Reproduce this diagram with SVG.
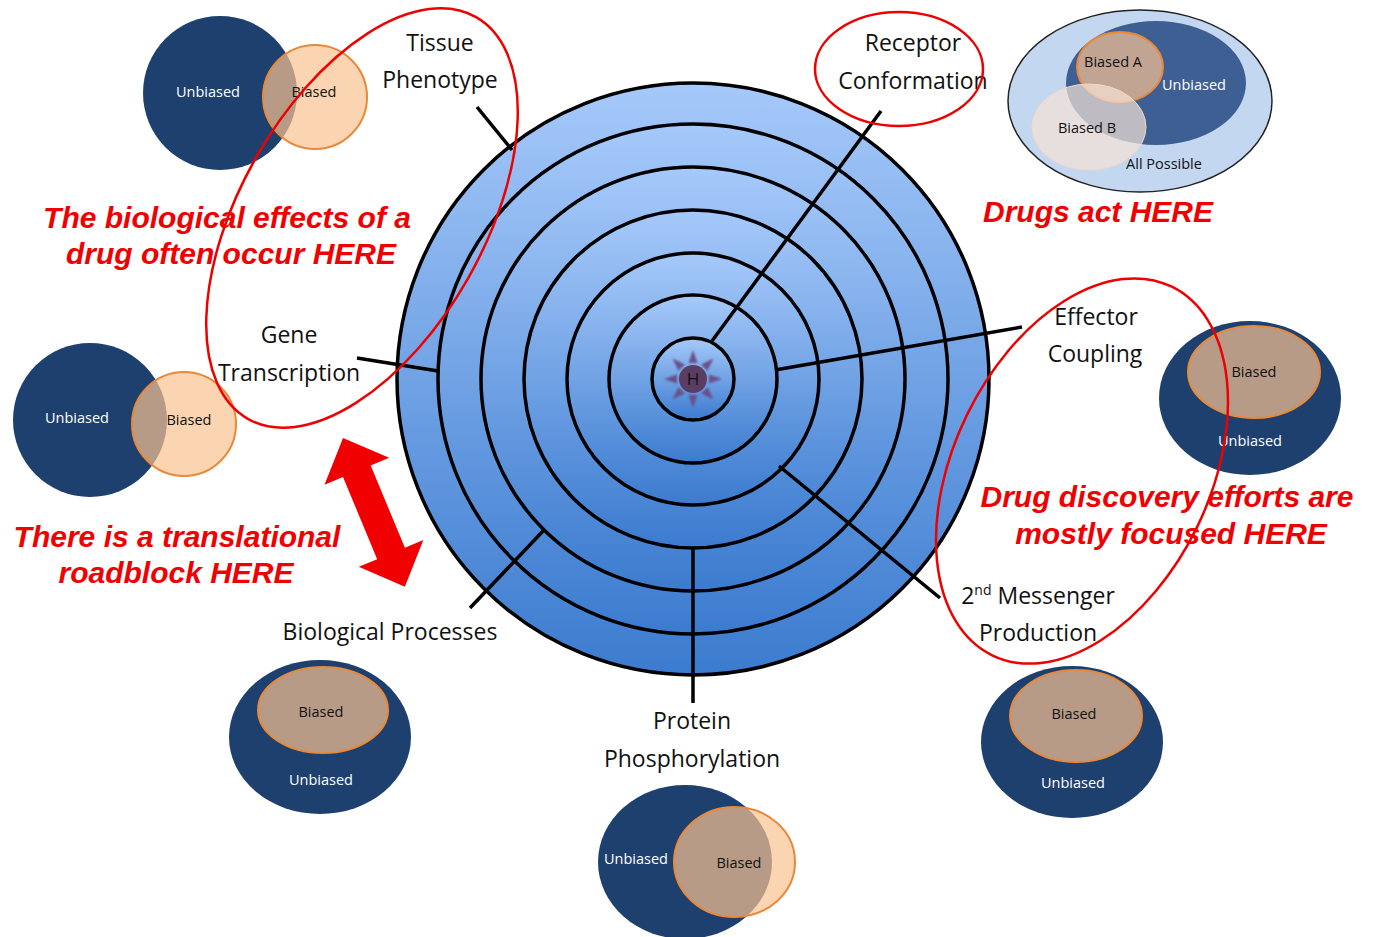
<svg xmlns="http://www.w3.org/2000/svg" width="1373" height="937" viewBox="0 0 1373 937">
<defs>
<linearGradient id="ringGrad" x1="0" y1="0" x2="0" y2="1">
<stop offset="0" stop-color="#a6c9fa"/>
<stop offset="1" stop-color="#3b7bcf"/>
</linearGradient>
<filter id="soft" x="-50%" y="-50%" width="200%" height="200%"><feGaussianBlur stdDeviation="1"/></filter>
<style>
.ring{fill:url(#ringGrad);stroke:#000;stroke-width:3.5}
.spoke{stroke:#000;stroke-width:3.5;fill:none;stroke-linecap:butt}
.lbl{font-family:"Open Sans","DejaVu Sans",sans-serif;font-size:23px;fill:#111;text-anchor:middle}
.vt{font-family:"Open Sans","DejaVu Sans",sans-serif;font-size:14.5px;text-anchor:middle}
.vb{fill:#111}
.vw{fill:#fff}
.navy{fill:#1e406f}
.peach{fill:#fac290;fill-opacity:0.7;stroke:#e8893a;stroke-width:2}
.redline{fill:none;stroke:#ee0000;stroke-width:2.5}
.redtxt{font-family:"Liberation Sans",Arial,sans-serif;font-weight:bold;font-style:italic;font-size:30px;fill:#f00000;text-anchor:middle}
</style>
</defs>
<rect width="1373" height="937" fill="#fff"/>

<!-- Venn diagrams -->
<g id="venn-tissue">
<circle class="navy" cx="220" cy="93" r="77"/>
<circle class="peach" cx="315" cy="97" r="52"/>
<text class="vt vw" x="208" y="97">Unbiased</text>
<text class="vt vb" x="314" y="97">Biased</text>
</g>
<g id="venn-gene">
<circle class="navy" cx="90" cy="420" r="77"/>
<circle class="peach" cx="184" cy="424" r="52"/>
<text class="vt vw" x="77" y="423">Unbiased</text>
<text class="vt vb" x="189" y="425">Biased</text>
</g>
<g id="venn-bio">
<ellipse class="navy" cx="320" cy="737" rx="91" ry="77"/>
<ellipse class="peach" cx="323" cy="710" rx="65" ry="43"/>
<text class="vt vb" x="321" y="717">Biased</text>
<text class="vt vw" x="321" y="785">Unbiased</text>
</g>
<g id="venn-protein">
<ellipse class="navy" cx="685" cy="862" rx="87" ry="77"/>
<ellipse class="peach" cx="734.5" cy="862" rx="60.5" ry="55"/>
<text class="vt vw" x="636" y="864">Unbiased</text>
<text class="vt vb" x="739" y="868">Biased</text>
</g>
<g id="venn-messenger">
<ellipse class="navy" cx="1072" cy="742" rx="91" ry="76"/>
<ellipse class="peach" cx="1076" cy="716" rx="66" ry="46"/>
<text class="vt vb" x="1074" y="719">Biased</text>
<text class="vt vw" x="1073" y="788">Unbiased</text>
</g>
<g id="venn-effector">
<ellipse class="navy" cx="1250" cy="398" rx="91" ry="77"/>
<ellipse class="peach" cx="1254" cy="372" rx="66" ry="46"/>
<text class="vt vb" x="1254" y="377">Biased</text>
<text class="vt vw" x="1250" y="446">Unbiased</text>
</g>
<g id="venn-receptor">
<ellipse cx="1140" cy="101" rx="132" ry="91" fill="#c4d7f0" stroke="#222" stroke-width="1.5"/>
<ellipse cx="1156" cy="83" rx="90" ry="62" fill="#3e5f93"/>
<ellipse class="peach" cx="1120" cy="67" rx="43" ry="35"/>
<ellipse cx="1089" cy="127" rx="57" ry="43" fill="#f6e2d6" fill-opacity="0.7" stroke="#f0d8c8" stroke-width="1"/>
<text class="vt vb" x="1113" y="67">Biased A</text>
<text class="vt vw" x="1194" y="90">Unbiased</text>
<text class="vt vb" x="1087" y="133">Biased B</text>
<text class="vt vb" x="1164" y="169">All Possible</text>
</g>

<!-- Concentric target -->
<g id="target">
<circle class="ring" cx="693" cy="379" r="296"/>
<circle class="ring" cx="693" cy="379" r="255"/>
<circle class="ring" cx="693" cy="379" r="212"/>
<circle class="ring" cx="693" cy="379" r="169"/>
<circle class="ring" cx="693" cy="379" r="126"/>
<circle class="ring" cx="693" cy="379" r="84"/>
<circle class="ring" cx="693" cy="379" r="41"/>
</g>

<g id="hormone" transform="translate(693,379)">
<g fill="#6b5087" filter="url(#soft)">
<polygon points="0,-29 -4.5,-16 4.5,-16"/>
<polygon points="0,-29 -4.5,-16 4.5,-16" transform="rotate(45)"/>
<polygon points="0,-29 -4.5,-16 4.5,-16" transform="rotate(90)"/>
<polygon points="0,-29 -4.5,-16 4.5,-16" transform="rotate(135)"/>
<polygon points="0,-29 -4.5,-16 4.5,-16" transform="rotate(180)"/>
<polygon points="0,-29 -4.5,-16 4.5,-16" transform="rotate(225)"/>
<polygon points="0,-29 -4.5,-16 4.5,-16" transform="rotate(270)"/>
<polygon points="0,-29 -4.5,-16 4.5,-16" transform="rotate(315)"/>
</g>
<circle r="14" fill="#5b3d63"/>
<text x="0" y="6" font-family="'Open Sans','DejaVu Sans',sans-serif" font-size="17" text-anchor="middle" fill="#111">H</text>
</g>

<!-- Connectors (spokes) -->
<g id="connectors">
<path class="spoke" d="M712,341 L881,111"/>
<path class="spoke" d="M775,370 L1022,327"/>
<path class="spoke" d="M779,466 L940,598"/>
<path class="spoke" d="M693,548 L693,703"/>
<path class="spoke" d="M544,530 L470,608"/>
<path class="spoke" d="M438,371 L357,358"/>
<path class="spoke" d="M512,150 L477,107"/>
</g>

<!-- Labels -->
<g id="label-tissue"><text class="lbl" x="440" y="51">Tissue</text><text class="lbl" x="440" y="88">Phenotype</text></g>
<g id="label-receptor"><text class="lbl" x="913" y="51">Receptor</text><text class="lbl" x="913" y="89">Conformation</text></g>
<g id="label-effector"><text class="lbl" x="1096" y="325">Effector</text><text class="lbl" x="1095" y="362">Coupling</text></g>
<g id="label-gene"><text class="lbl" x="289" y="343">Gene</text><text class="lbl" x="289" y="381">Transcription</text></g>
<g id="label-bio"><text class="lbl" x="390" y="640">Biological Processes</text></g>
<g id="label-protein"><text class="lbl" x="692" y="729">Protein</text><text class="lbl" x="692" y="767">Phosphorylation</text></g>
<g id="label-messenger"><text class="lbl" x="1038" y="604">2<tspan font-size="14" dy="-9">nd</tspan><tspan dy="9"> Messenger</tspan></text><text class="lbl" x="1038" y="641">Production</text></g>

<!-- Red annotations -->
<g id="annotations">
<ellipse class="redline" cx="0" cy="0" rx="231" ry="122" transform="translate(362,218) rotate(-60.4)"/>
<ellipse class="redline" cx="899" cy="69" rx="84" ry="57"/>
<ellipse class="redline" cx="0" cy="0" rx="205" ry="128" transform="translate(1082,471) rotate(-64)"/>
<polygon fill="#f00000" transform="translate(343,438) rotate(67.4)" points="0,0 36,-35 36,-15 125,-15 125,-35 161,0 125,35 125,15 36,15 36,35"/>
<text class="redtxt" x="227" y="228">The biological effects of a</text>
<text class="redtxt" x="231" y="264">drug often occur HERE</text>
<text class="redtxt" x="1098" y="222">Drugs act HERE</text>
<text class="redtxt" x="1167" y="507">Drug discovery efforts are</text>
<text class="redtxt" x="1171" y="544">mostly focused HERE</text>
<text class="redtxt" x="177" y="547">There is a translational</text>
<text class="redtxt" x="176" y="583">roadblock HERE</text>
</g>
</svg>
